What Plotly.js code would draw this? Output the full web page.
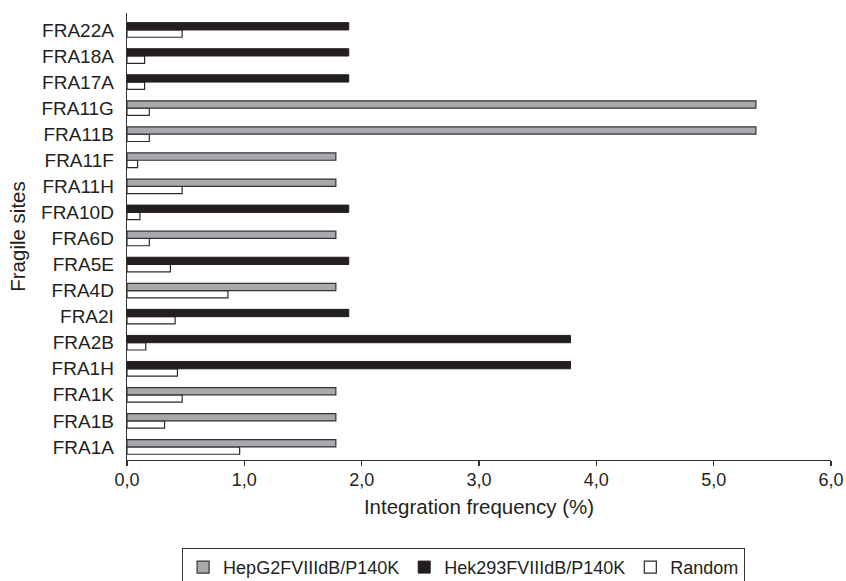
<!DOCTYPE html>
<html>
<head>
<meta charset="utf-8">
<script src="https://cdn.plot.ly/plotly-3.0.1.min.js"></script>
<style>html,body{margin:0;padding:0;background:#fff;}#chart{width:846px;height:581px;}</style>
</head>
<body>
<div id="chart"></div>
<script>
// categories listed bottom to top
const sites = ["FRA1A","FRA1B","FRA1K","FRA1H","FRA2B","FRA2I","FRA4D","FRA5E","FRA6D","FRA10D","FRA11H","FRA11F","FRA11B","FRA11G","FRA17A","FRA18A","FRA22A"];
const hepg2 = [1.78,1.78,1.78,null,null,null,1.78,null,1.78,null,1.78,1.78,5.36,5.36,null,null,null];
const hek293 = [null,null,null,3.78,3.78,1.89,null,1.89,null,1.89,null,null,null,null,1.89,1.89,1.89];
const random = [0.96,0.32,0.47,0.43,0.16,0.41,0.86,0.37,0.19,0.11,0.47,0.09,0.19,0.19,0.15,0.15,0.47];
const xTicks = [0,1,2,3,4,5,6];
const xTickText = ["0,0","1,0","2,0","3,0","4,0","5,0","6,0"];

const traces = [
  {type:"bar", orientation:"h", name:"Random", y:sites, x:random, offsetgroup:"r", legendrank:3,
   marker:{color:"#ffffff", line:{color:"#2b2b2b", width:1.2}}},
  {type:"bar", orientation:"h", name:"HepG2FVIIIdB/P140K", y:sites, x:hepg2, offsetgroup:"c", legendrank:1,
   marker:{color:"#a7a9ac", line:{color:"#333333", width:1.2}}},
  {type:"bar", orientation:"h", name:"Hek293FVIIIdB/P140K", y:sites, x:hek293, offsetgroup:"c", legendrank:2,
   marker:{color:"#231f20", line:{color:"#231f20", width:1}}}
];

const fam = "Liberation Sans, Arial, sans-serif";
const txt = "#231f20";
const layout = {
  width:846, height:581,
  margin:{l:127, r:15, t:13, b:121, pad:0},
  paper_bgcolor:"#fff", plot_bgcolor:"#fff",
  font:{family:fam, size:18, color:txt},
  barmode:"group", bargap:0.44, bargroupgap:0,
  showlegend:true,
  legend:{orientation:"h", x:0.548, xanchor:"center", xref:"container", yref:"container", y:0.057, yanchor:"top",
          bordercolor:"#333", borderwidth:1, font:{family:fam, size:18, color:txt},
          traceorder:"normal", itemwidth:30, entrywidth:0},
  xaxis:{range:[0,6], tickvals:xTicks, ticktext:xTickText, ticks:"outside", ticklen:5, tickwidth:1.2, tickcolor:"#333",
         showline:true, linecolor:"#333", linewidth:1.3, showgrid:false, zeroline:false,
         ticklabelstandoff:-2,
         tickfont:{family:fam, size:18, color:txt},
         title:{text:"Integration frequency (%)", font:{family:fam, size:20.5, color:txt}, standoff:10},
         fixedrange:true},
  yaxis:{type:"category", categoryorder:"array", categoryarray:sites, range:[-0.5,16.65],
         showline:true, linecolor:"#333", linewidth:1.3, showgrid:false, zeroline:false, ticks:"",
         ticklabelstandoff:8,
         tickfont:{family:fam, size:19, color:txt},
         title:{text:"Fragile sites", font:{family:fam, size:20.5, color:txt}, standoff:10},
         fixedrange:true}
};
Plotly.newPlot("chart", traces, layout, {displayModeBar:false, staticPlot:true});
</script>
</body>
</html>
